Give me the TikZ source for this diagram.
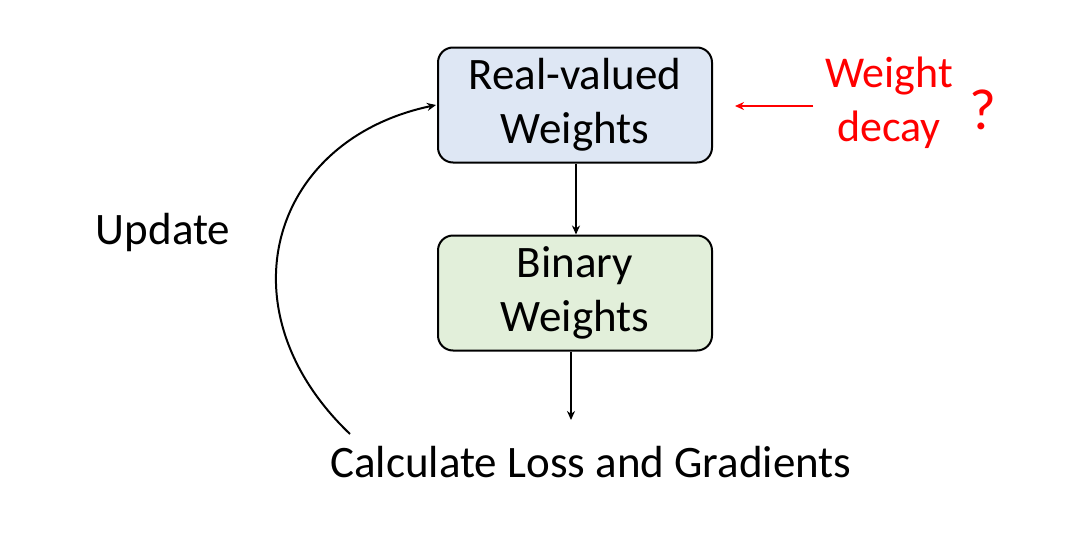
\documentclass[tikz,border=0pt]{standalone}
\usepackage{fontspec}
\setmainfont{Carlito}
\usetikzlibrary{arrows.meta}
\definecolor{boxblue}{HTML}{DEE7F4}
\definecolor{boxgreen}{HTML}{E2EFDA}
\definecolor{wdred}{HTML}{FF0000}
\begin{document}
\begin{tikzpicture}[x=1pt,y=-1pt,
  wbox/.style={draw=black,line width=2pt,rounded corners=15pt,minimum width=274pt,minimum height=115pt,align=center,font=\fontsize{45}{54}\selectfont,inner sep=0pt},
  lbl/.style={font=\fontsize{45}{54}\selectfont,inner sep=0pt,align=center},
  conn/.style={line width=2pt,-{Stealth[length=9pt,width=8pt]}}]
\useasboundingbox (0,0) rectangle (1080,541);
\node[wbox,fill=boxblue] (real) at (575,105) {Real-valued\\Weights};
\node[wbox,fill=boxgreen] (bin) at (575,293) {\raisebox{-3pt}{\parbox{274pt}{\centering Binary\\Weights}}};
\node[lbl] (calc) at (591,462) {Calculate Loss and Gradients};
\node[lbl] (upd) at (163,232) {Update};
\node[lbl,font=\fontsize{44}{54}\selectfont,text=wdred] (wd) at (889,103) {Weight\\decay};
\node[lbl,font=\fontsize{58}{60}\selectfont,text=wdred] (q) at (983,110) {?};
\coordinate (calcstart) at (350,434);
\coordinate (realin) at (436,105);
\coordinate (redstart) at (813,106);
\coordinate (redend) at (735,106);
\draw[conn] (real.south -| 576,0) -- (bin.north -| 576,0);
\draw[conn] (bin.south -| 571,0) -- (571,420);
\draw[conn] (calcstart) .. controls (220,310) and (270,140) .. (realin);
\draw[conn,line width=1.7pt,draw=wdred,fill=wdred] (redstart) -- (redend);
\end{tikzpicture}
\end{document}
